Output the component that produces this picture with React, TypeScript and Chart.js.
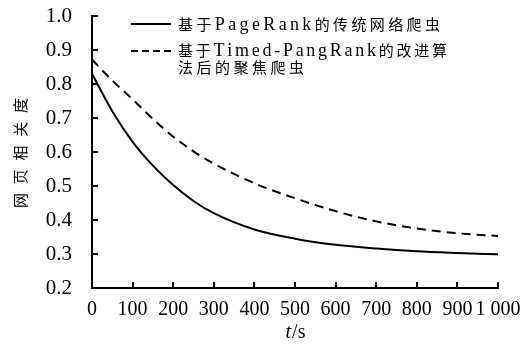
import React, { useEffect, useRef } from 'react';
import { Chart, registerables } from 'chart.js';
Chart.register(...registerables);

const timePoints = [0, 50, 100, 150, 200, 250, 300, 400, 500, 600, 700, 800, 900, 1000];
const pageRankValues = [0.83, 0.72, 0.63, 0.56, 0.503, 0.456, 0.42, 0.372, 0.345, 0.327, 0.316, 0.308, 0.303, 0.299];
const timedPageRankValues = [0.872, 0.81, 0.755, 0.697, 0.645, 0.602, 0.566, 0.508, 0.464, 0.426, 0.396, 0.375, 0.361, 0.353];
const xTickLabels = ['0', '100', '200', '300', '400', '500', '600', '700', '800', '900', '1 000'];
const legendRows1 = ['基于PageRank的传统网络爬虫'];
const legendRows2 = ['基于Timed-PangRank的改进算', '法后的聚焦爬虫'];
const yTitle = '网页相关度';
const xTitleItalic = 't';
const xTitleRest = '/s';

const SERIF = '"Liberation Serif", "Noto Sans CJK SC", serif';
const CJK_FONT = '15px "Noto Sans CJK SC", sans-serif';
const LATIN_FONT = '18px "Liberation Serif", serif';

function isCJK(c: string) {
  return /[\u3400-\u9fff]/.test(c);
}

function drawSpaced(ctx: CanvasRenderingContext2D, text: string, x: number, y: number, target: number) {
  const chars = Array.from(text);
  const fonts = chars.map((c) => (isCJK(c) ? CJK_FONT : LATIN_FONT));
  const widths = chars.map((c, i) => {
    ctx.font = fonts[i];
    return ctx.measureText(c).width;
  });
  const natural = widths.reduce((a, b) => a + b, 0);
  const gap = chars.length > 1 ? (target - natural) / (chars.length - 1) : 0;
  let cx = x;
  chars.forEach((c, i) => {
    ctx.font = fonts[i];
    ctx.fillText(c, cx, y);
    cx += widths[i] + gap;
  });
}

const decorPlugin = {
  id: 'decor',
  afterDraw(chart: any) {
    const { ctx, chartArea: a, scales } = chart;
    const xs = scales.x;
    const ys = scales.y;
    ctx.save();
    ctx.strokeStyle = '#000';
    ctx.fillStyle = '#000';
    ctx.lineWidth = 2;
    ctx.setLineDash([]);
    // axes
    ctx.beginPath();
    ctx.moveTo(a.left, a.top - 1);
    ctx.lineTo(a.left, a.bottom);
    ctx.lineTo(a.right + 1, a.bottom);
    ctx.stroke();
    // inward ticks
    ctx.beginPath();
    xs.ticks.forEach((t: any) => {
      const px = Math.round(xs.getPixelForValue(t.value));
      ctx.moveTo(px, a.bottom);
      ctx.lineTo(px, a.bottom - 6);
    });
    ys.ticks.forEach((t: any) => {
      const py = Math.round(ys.getPixelForValue(t.value));
      ctx.moveTo(a.left, py);
      ctx.lineTo(a.left + 6, py);
    });
    ctx.stroke();

    // legend
    ctx.lineWidth = 2;
    ctx.beginPath();
    ctx.moveTo(131, 24);
    ctx.lineTo(171, 24);
    ctx.stroke();
    ctx.setLineDash([7, 4]);
    ctx.beginPath();
    ctx.moveTo(131, 51);
    ctx.lineTo(171, 51);
    ctx.stroke();
    ctx.setLineDash([]);
    ctx.textBaseline = 'alphabetic';
    ctx.textAlign = 'left';
    drawSpaced(ctx, legendRows1[0], 178, 29.5, 262);
    drawSpaced(ctx, legendRows2[0], 178, 55.5, 269);
    drawSpaced(ctx, legendRows2[1], 178, 72.5, 126);

    // y title
    ctx.save();
    ctx.translate(20, 208);
    ctx.rotate(-Math.PI / 2);
    ctx.textBaseline = 'middle';
    drawSpaced(ctx, yTitle, 0, 0, 110);
    ctx.restore();

    // x title
    ctx.textBaseline = 'middle';
    ctx.font = 'italic 20px ' + SERIF;
    const w1 = ctx.measureText(xTitleItalic).width;
    ctx.font = '20px ' + SERIF;
    const w2 = ctx.measureText(xTitleRest).width;
    const cx = (a.left + a.right) / 2 - (w1 + w2) / 2;
    ctx.font = 'italic 20px ' + SERIF;
    ctx.fillText(xTitleItalic, cx, 333);
    ctx.font = '20px ' + SERIF;
    ctx.fillText(xTitleRest, cx + w1 + 1, 333);
    ctx.restore();
  },
};

export default function App() {
  const ref = useRef<HTMLCanvasElement>(null);
  useEffect(() => {
    const chart = new Chart(ref.current as HTMLCanvasElement, {
      type: 'line',
      data: {
        datasets: [
          {
            label: legendRows1[0],
            data: timePoints.map((t, i) => ({ x: t, y: pageRankValues[i] })),
            borderColor: '#000',
            borderWidth: 2,
            pointRadius: 0,
            cubicInterpolationMode: 'monotone',
            fill: false,
          },
          {
            label: legendRows2.join(''),
            data: timePoints.map((t, i) => ({ x: t, y: timedPageRankValues[i] })),
            borderColor: '#000',
            borderWidth: 2,
            borderDash: [9, 6],
            pointRadius: 0,
            cubicInterpolationMode: 'monotone',
            fill: false,
          },
        ],
      },
      options: {
        responsive: false,
        animation: false,
        layout: { padding: { left: 0, right: 22, top: 16, bottom: 0 } },
        plugins: { legend: { display: false }, tooltip: { enabled: false } },
        scales: {
          x: {
            type: 'linear',
            min: 0,
            max: 1000,
            grid: { display: false },
            border: { display: false },
            ticks: {
              stepSize: 100,
              autoSkip: false,
              maxRotation: 0,
              padding: 2,
              color: '#000',
              font: { family: SERIF, size: 20 },
              callback: (_v: any, i: number) => xTickLabels[i],
            },
            afterFit: (s: any) => {
              s.height = 59;
              s.paddingLeft = 0;
              s.paddingRight = 0;
            },
          },
          y: {
            type: 'linear',
            min: 0.2,
            max: 1.0,
            grid: { display: false },
            border: { display: false },
            ticks: {
              stepSize: 0.1,
              padding: 12,
              color: '#000',
              font: { family: SERIF, size: 21 },
              callback: (v: any) => Number(v).toFixed(1),
            },
            afterFit: (s: any) => {
              s.width = 92;
              s.paddingTop = 0;
              s.paddingBottom = 0;
            },
          },
        },
      },
      plugins: [decorPlugin],
    } as any);
    return () => chart.destroy();
  }, []);
  return (
    <div style={{ position: 'absolute', left: 0, top: 0, width: 520, height: 347, background: '#fff' }}>
      <canvas ref={ref} width={520} height={347} />
    </div>
  );
}
